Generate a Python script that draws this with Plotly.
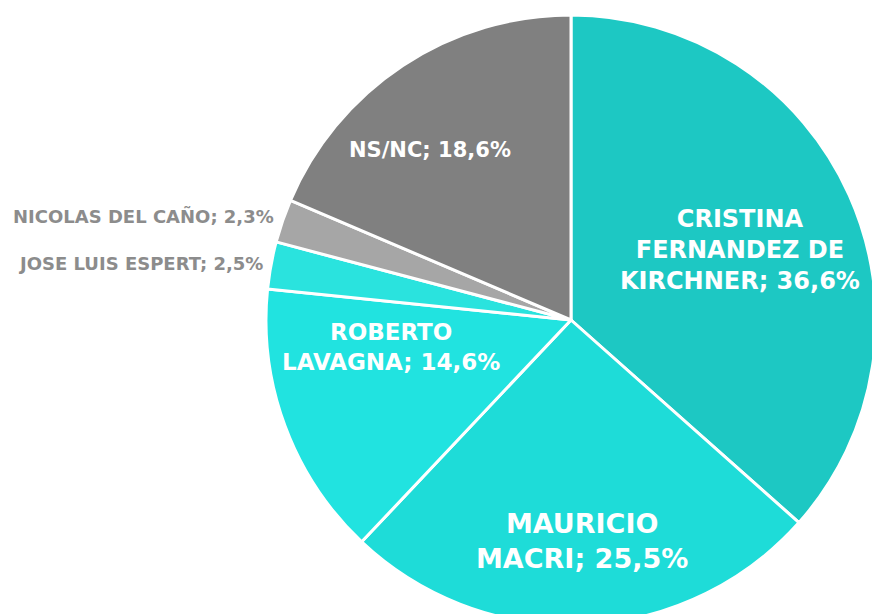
import plotly.graph_objects as go

# Vote intention shares (%)
candidates = ["CRISTINA FERNANDEZ DE KIRCHNER", "MAURICIO MACRI", "ROBERTO LAVAGNA",
              "JOSE LUIS ESPERT", "NICOLAS DEL CAÑO", "NS/NC"]
shares = [36.6, 25.5, 14.6, 2.5, 2.3, 18.6]
slice_colors = ["#1DC8C3", "#1EDCD8", "#21E3E0", "#2AE3DE", "#A6A6A6", "#808080"]

# Line-broken versions of the names for the labels inside the slices
label_lines = {
    "CRISTINA FERNANDEZ DE KIRCHNER": ["CRISTINA", "FERNANDEZ DE", "KIRCHNER"],
    "MAURICIO MACRI": ["MAURICIO", "MACRI"],
    "ROBERTO LAVAGNA": ["ROBERTO", "LAVAGNA"],
    "NS/NC": ["NS/NC"],
}

W, H = 880, 640
CX, CY, R = 571, 320, 305


def fmt(v):
    return f"{v:.1f}".replace(".", ",") + "%"


fig = go.Figure(go.Pie(
    labels=candidates,
    values=shares,
    sort=False,
    direction="clockwise",
    rotation=0,
    marker=dict(colors=slice_colors, line=dict(color="white", width=3)),
    textinfo="none",
    hoverinfo="label+percent",
    showlegend=False,
    domain=dict(x=[(CX - R) / W, (CX + R) / W], y=[1 - (CY + R) / H, 1 - (CY - R) / H]),
))

FONT = "DejaVu Sans"
# label placement (pixel anchor, font size, xanchor, colour)
placement = {
    "CRISTINA FERNANDEZ DE KIRCHNER": (740, 250, 24, "center", "white"),
    "MAURICIO MACRI": (582, 541, 27, "center", "white"),
    "ROBERTO LAVAGNA": (391, 347, 23, "center", "white"),
    "NS/NC": (430, 150, 21, "center", "white"),
    "NICOLAS DEL CAÑO": (276, 216, 18, "right", "#8C8C8C"),
    "JOSE LUIS ESPERT": (265, 263, 18, "right", "#8C8C8C"),
}

annotations = []
for name, val in zip(candidates, shares):
    px, py, size, xa, col = placement[name]
    lines = label_lines.get(name, [name])
    text = "<br>".join(lines[:-1] + [f"{lines[-1]}; {fmt(val)}"])
    annotations.append(dict(
        x=px / W, y=1 - py / H, xref="paper", yref="paper",
        xanchor=xa, yanchor="middle", align="center",
        text=f"<b>{text}</b>", showarrow=False,
        font=dict(family=FONT, size=size, color=col),
    ))

fig.update_layout(
    width=W, height=H,
    margin=dict(l=0, r=0, t=0, b=0),
    paper_bgcolor="white",
    plot_bgcolor="white",
    annotations=annotations,
)

fig.write_html("out.html", post_script="document.body.style.overflow='hidden';document.body.style.margin='0';")
